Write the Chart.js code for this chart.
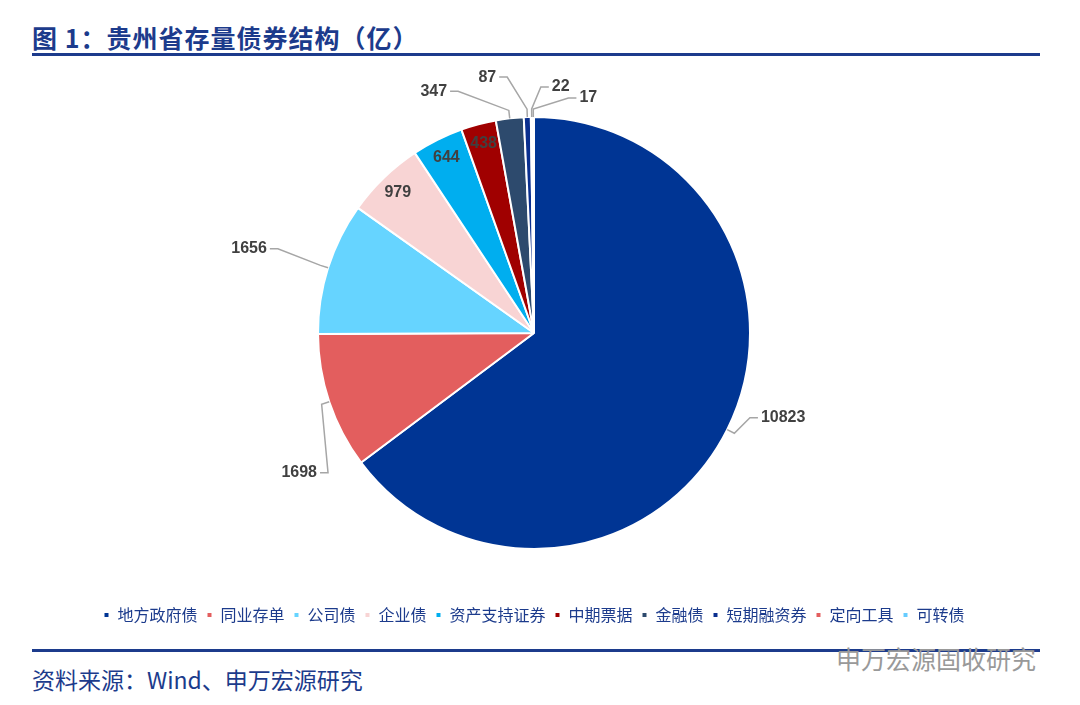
<!DOCTYPE html>
<html><head><meta charset="utf-8">
<script src="https://cdn.jsdelivr.net/npm/chart.js@4.4.1/dist/chart.umd.min.js"></script>
<style>
body{margin:0;width:1080px;height:705px;background:#fff;position:relative;font-family:"Noto Sans CJK SC","Liberation Sans",sans-serif;overflow:hidden}
#title{position:absolute;left:32px;top:19px;font-size:25px;font-weight:bold;color:#1C3B8C;letter-spacing:1px}
.line{position:absolute;left:32px;width:1008px;height:3px;background:#1C3B8C}
#src{position:absolute;left:32px;top:662px;font-size:23px;color:#1C3B8C}
#wm{position:absolute;left:836px;top:640px;font-size:25px;color:#999}
#wrap{position:absolute;left:0;top:60px;width:1080px;height:580px}
</style></head><body>
<div id="title">图 1：贵州省存量债券结构（亿）</div>
<div class="line" style="top:53px"></div>
<div class="line" style="top:649px"></div>
<div id="src">资料来源：Wind、申万宏源研究</div>
<div id="wm">申万宏源固收研究</div>
<div id="wrap"><canvas id="c"></canvas></div>
<script>
const categories=["地方政府债","同业存单","公司债","企业债","资产支持证券","中期票据","金融债","短期融资券","定向工具","可转债"];
const values=[10823,1698,1656,979,644,438,347,87,22,17];
const colors=["#003594","#E35E5E","#66D4FF","#F8D4D4","#00AEEF","#A00000","#2D4A6D","#0A2F8F","#E35E5E","#66CCFF"];
// label placement style: null = inside, else [dx,dy] offset from slice edge
const labelOffsets=[[56,-12],[-30,71],[-79,-19],null,null,null,[-76,-27],[-40,-40],[29,-30],[55,-19]];
const labelPlugin={id:'lbl',afterDatasetsDraw(chart){
  const ctx=chart.ctx;const meta=chart.getDatasetMeta(0);
  ctx.save();ctx.font='bold 16px "Liberation Sans",Arial';ctx.textBaseline='middle';
  meta.data.forEach((arc,i)=>{
    const a=(arc.startAngle+arc.endAngle)/2,r=arc.outerRadius,cx=arc.x,cy=arc.y;
    const txt=String(values[i]);const w=ctx.measureText(txt).width;
    const off=labelOffsets[i];
    if(!off){const rr=r-20;ctx.fillStyle='#404040';ctx.textAlign='center';ctx.fillText(txt,cx+Math.cos(a)*rr,cy+Math.sin(a)*rr);return;}
    const ex=cx+Math.cos(a)*r,ey=cy+Math.sin(a)*r;
    const tx=ex+off[0],ty=ey+off[1];
    const mx=cx+Math.cos(a)*(r+8),my=cy+Math.sin(a)*(r+8);
    const endx=off[0]>0?tx-w/2-3:tx+w/2+3;
    ctx.strokeStyle='#A6A6A6';ctx.lineWidth=1.5;ctx.beginPath();ctx.moveTo(ex,ey);ctx.lineTo(mx,my);
    const kx=off[0]>0?endx-8:endx+8;ctx.lineTo(kx,ty);ctx.lineTo(endx,ty);ctx.stroke();
    ctx.fillStyle='#404040';ctx.textAlign='center';ctx.fillText(txt,tx,ty);
  });ctx.restore();}};
new Chart(document.getElementById('c'),{type:'pie',
 data:{labels:categories,datasets:[{data:values,backgroundColor:colors,borderColor:'#fff',borderWidth:2,radius:216}]},
 options:{responsive:true,maintainAspectRatio:false,animation:false,
  layout:{padding:{top:8,bottom:7,right:12}},
  plugins:{tooltip:{enabled:false},
   legend:{position:'bottom',labels:{boxWidth:6,boxHeight:6,padding:9,color:'#1C3B8C',font:{size:16,family:'"Noto Sans CJK SC"'}}}}},
 plugins:[labelPlugin]});
</script></body></html>
